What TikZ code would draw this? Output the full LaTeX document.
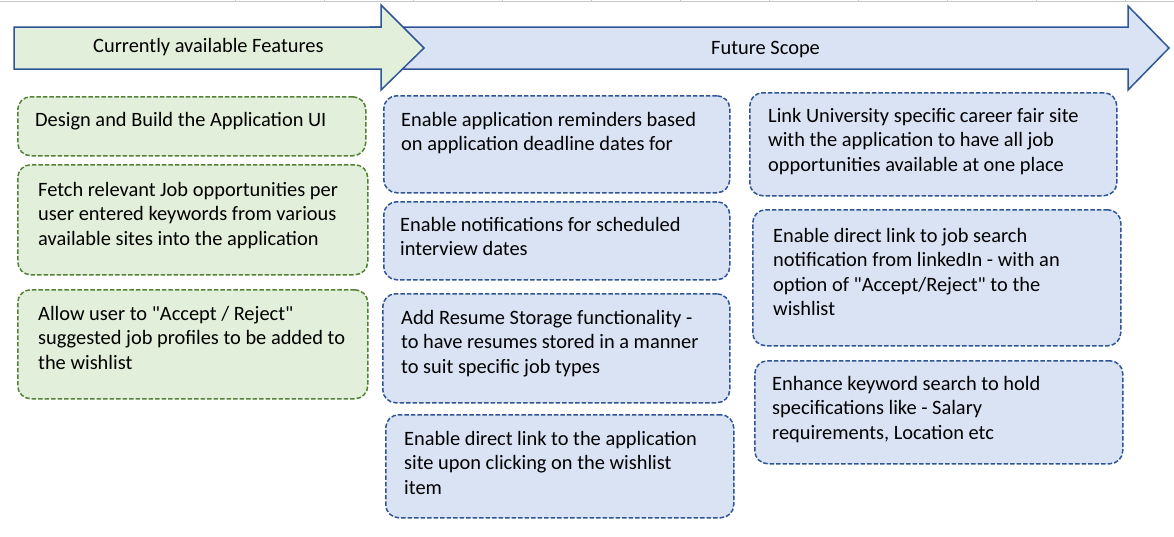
\documentclass[tikz,border=0pt]{standalone}
\usepackage{fontspec}
\setmainfont{Carlito}[Ligatures=TeXOff]
\definecolor{fillgreen}{HTML}{E2EFDA}
\definecolor{boxgreen}{HTML}{548235}
\definecolor{fillblue}{HTML}{DAE3F3}
\definecolor{boxblue}{HTML}{2F5597}
\definecolor{arrowline}{HTML}{2F5597}
\definecolor{gridgrey}{HTML}{C8C8C8}
\newcommand\boxtext[1]{\parbox[t]{350pt}{\raggedright #1}}
\begin{document}
\begin{tikzpicture}[x=1pt,y=-1pt,
  every node/.style={font=\fontsize{20.4}{24.6}\selectfont, text=black},
  basebox/.style={line width=1.5pt, dash pattern=on 4.5pt off 2pt, rounded corners=13pt, inner sep=0pt, anchor=north west},
  gbox/.style={basebox, draw=boxgreen, fill=fillgreen},
  bbox/.style={basebox, draw=boxblue, fill=fillblue},
  txt/.style={anchor=base west, inner sep=0pt},
  arrowshape/.style={draw=arrowline, line width=1.5pt, line join=miter}]
\useasboundingbox[fill=white] (0,0) rectangle (1174,536);
% spreadsheet grid remnant
\draw[gridgrey, line width=1pt] (0,1.5) -- (1174,1.5);
\foreach \gx in {235,324,413,502,591,680,769,858,947,1036,1125}
  \draw[gridgrey, line width=1pt] (\gx,0) -- (\gx,1.5);
% arrows
\draw[arrowshape, fill=fillblue] (370,27) -- (1128,27) -- (1128,6) -- (1169,48) -- (1128,90) -- (1128,69) -- (370,69) -- cycle;
\draw[arrowshape, fill=fillgreen] (14,27) -- (381,27) -- (381,5) -- (424,48) -- (381,90) -- (381,69) -- (14,69) -- cycle;
\node[txt] (cur) at (93,52) {Currently available Features};
\node[txt] (fut) at (711,54) {Future Scope};
% column 1
\node[gbox, minimum width=348pt, minimum height=59pt] (g1box) at (17,96) {};
\node[txt] (g1) at (35,126) {\boxtext{Design and Build the Application UI}};
\node[gbox, minimum width=350pt, minimum height=110pt] (g2box) at (17,164) {};
\node[txt] (g2) at (38,196) {\boxtext{Fetch relevant Job opportunities per\\user entered keywords from various\\available sites into the application}};
\node[gbox, minimum width=350pt, minimum height=109pt] (g3box) at (17,289) {};
\node[txt] (g3) at (38,320) {\boxtext{Allow user to "Accept / Reject"\\suggested job profiles to be added to\\the wishlist}};
% column 2
\node[bbox, minimum width=346pt, minimum height=97pt] (b1box) at (383,95) {};
\node[txt] (b1) at (401,126) {\boxtext{Enable application reminders based\\on application deadline dates for}};
\node[bbox, minimum width=346pt, minimum height=78pt] (b2box) at (383,201) {};
\node[txt] (b2) at (400,231) {\boxtext{Enable notifications for scheduled\\interview dates}};
\node[bbox, minimum width=347pt, minimum height=109pt] (b3box) at (382,293) {};
\node[txt] (b3) at (401,324) {\boxtext{Add Resume Storage functionality -\\to have resumes stored in a manner\\to suit specific job types}};
\node[bbox, minimum width=348pt, minimum height=103pt] (b4box) at (385,414) {};
\node[txt] (b4) at (404,445) {\boxtext{Enable direct link to the application\\site upon clicking on the wishlist\\item}};
% column 3
\node[bbox, minimum width=367pt, minimum height=103pt] (c1box) at (749,92) {};
\node[txt] (c1) at (768,122) {\boxtext{Link University specific career fair site\\with the application to have all job\\opportunities available at one place}};
\node[bbox, minimum width=368pt, minimum height=136pt] (c2box) at (752,209) {};
\node[txt] (c2) at (773,242) {\boxtext{Enable direct link to job search\\notification from linkedIn - with an\\option of "Accept/Reject" to the\\wishlist}};
\node[bbox, minimum width=368pt, minimum height=103pt] (c3box) at (754,360) {};
\node[txt] (c3) at (772,390) {\boxtext{Enhance keyword search to hold\\specifications like - Salary\\requirements, Location etc}};
\end{tikzpicture}
\end{document}
